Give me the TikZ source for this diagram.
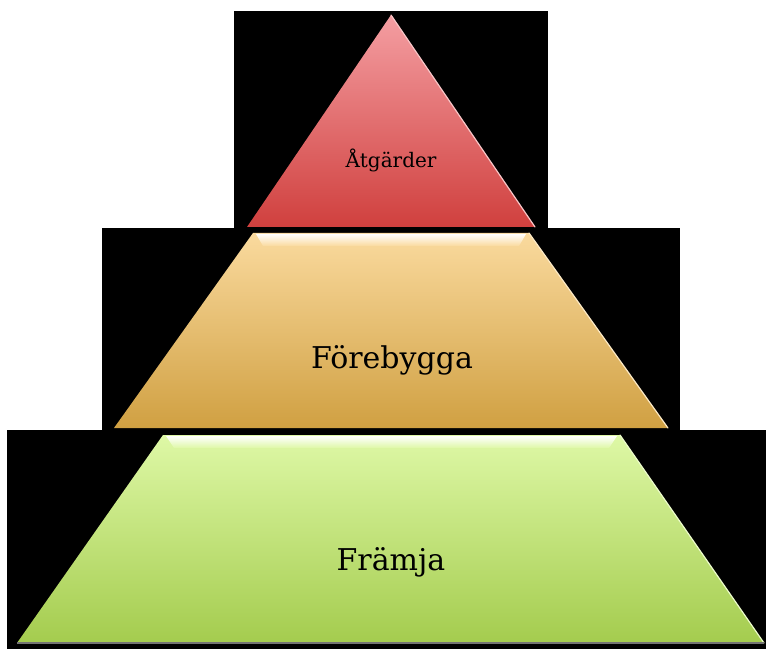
\documentclass[tikz,border=0pt]{standalone}
\usepackage{fontspec}
\setmainfont{DejaVu Serif}
\begin{document}
\begin{tikzpicture}[x=0.5pt, y=0.5pt,
  backdrop/.style = {fill=black},
  gloss/.style = {top color=white, bottom color=#1},
  rim/.style = {draw=#1, line width=0.6pt, line cap=round},
  label/.style = {anchor=base, text=black}]
\definecolor{redtop}{RGB}{244,158,162}
\definecolor{redbot}{RGB}{208,64,62}
\definecolor{ortop}{RGB}{250,218,158}
\definecolor{orbot}{RGB}{208,160,66}
\definecolor{grtop}{RGB}{222,248,166}
\definecolor{grbot}{RGB}{164,204,78}

\fill[white] (0,0) rectangle (766,649);
\useasboundingbox (0,0) rectangle (766,649);

\fill[backdrop] (234,421) rectangle (548,638);
\fill[backdrop] (102,219) rectangle (680,421);
\fill[backdrop] (7,0) rectangle (766,219);

\shade[top color=redtop, bottom color=redbot] (391,634) -- (535,422) -- (247,422) -- cycle;
\draw[rim=redtop!60!white] (391,634) -- (535,422);

\shade[top color=ortop, bottom color=orbot] (253,416) -- (529,416) -- (668,221) -- (114,221) -- cycle;
\shade[gloss=ortop] (256,415) -- (526,415) -- (519,403) -- (263,403) -- cycle;
\draw[rim=ortop!60!white] (529,416) -- (668,221);

\shade[top color=grtop, bottom color=grbot] (163,214) -- (620,214) -- (764,6) -- (17,6) -- cycle;
\shade[gloss=grtop] (166,213) -- (617,213) -- (609,201) -- (174,201) -- cycle;
\draw[rim=grtop!60!white] (620,214) -- (764,6);
\draw[black!55, line width=0.6pt] (17,6) -- (764,6);

\node[label, font=\fontsize{10}{12}\selectfont] (atgarder) at (391,481) {Åtgärder};
\node[label, font=\fontsize{15}{18}\selectfont] (forebygga) at (392,280) {Förebygga};
\node[label, font=\fontsize{15}{18}\selectfont] (framja) at (391,79) {Främja};
\end{tikzpicture}
\end{document}
